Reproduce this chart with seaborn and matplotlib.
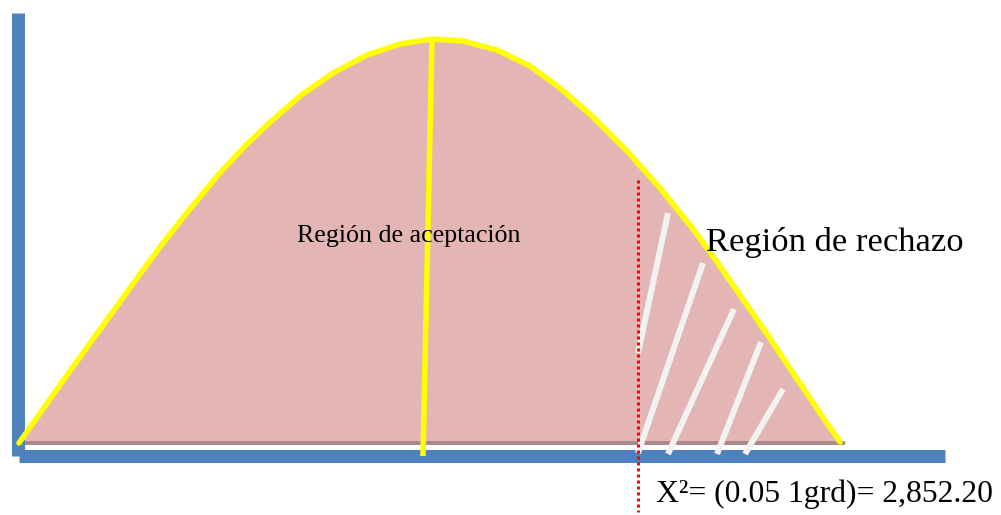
import numpy as np
import pandas as pd
import matplotlib
matplotlib.use("Agg")
import matplotlib.pyplot as plt
import seaborn as sns

# Curve (x position, height above the baseline)
curve_x = [19, 43, 70, 93, 117, 140, 163, 190, 219, 245, 267, 300, 333, 367, 400, 432,
           463, 497, 530, 560, 593, 627, 660, 693, 717, 740, 765, 793, 820, 840]
curve_y = [0, 34, 72, 104, 137, 169, 200, 234, 269, 297, 318, 347, 370, 388, 399, 404,
           402, 393, 377, 355, 326, 292, 255, 214, 181, 148, 112, 70, 30, 1]

# Mean line (slightly slanted in the original)
mean_x = [432, 423]
mean_y = [403, -13]

# Critical value marker
crit_x = 638
crit_top = 263
crit_bottom = -69

# White hatch strokes in the rejection region: (x0, y0, x1, y1)
hatch_x0 = [668, 703, 734, 761, 783]
hatch_y0 = [230, 180, 134, 101, 54]
hatch_x1 = [638, 638, 668, 717, 745]
hatch_y1 = [90, -10, -11, -11, -11]

label_accept = "Región de aceptación"
label_reject = "Región de rechazo"
label_crit = "X²= (0.05 1grd)= 2,852.20"

sns.set_style("white")
plt.rcParams['font.family'] = ['Liberation Serif', 'DejaVu Serif']

df = pd.DataFrame({'x': curve_x, 'y': curve_y})

fig = plt.figure(figsize=(10.01, 5.15), dpi=100)
ax = fig.add_axes([0, 0, 1, 1])
ax.set_xlim(0, 1001)
ax.set_ylim(-72, 443)
ax.axis('off')

px = 0.72  # one pixel in points

# shaded area under the curve
ax.fill_between(df['x'], 0, df['y'], color='#e3b5b5', lw=0, zorder=1)
ax.plot([19, 845], [0, 0], color='#a88a8b', lw=4 * px, solid_capstyle='butt', zorder=2)

# blue axes
ax.plot([17.5, 17.5], [430, -13], color='#4f81bd', lw=13 * px, solid_capstyle='butt', zorder=3)
ax.plot([19, 945], [-13, -13], color='#4f81bd', lw=13 * px, solid_capstyle='butt', zorder=3)

# curve outline
sns.lineplot(data=df, x='x', y='y', color='#ffff00', lw=5.5 * px, ax=ax,
             sort=False, zorder=4, solid_joinstyle='round')
ax.plot(mean_x, mean_y, color='#ffff00', lw=5.5 * px, solid_capstyle='butt', zorder=4)

# hatch strokes
for x0, y0, x1, y1 in zip(hatch_x0, hatch_y0, hatch_x1, hatch_y1):
    ax.plot([x0, x1], [y0, y1], color='#f2f2f2', lw=6 * px,
            solid_capstyle='butt', zorder=5)

# critical value line
ax.plot([crit_x, crit_x], [crit_top, crit_bottom], color='#ff0000',
        lw=3 * px, linestyle=(0, (1, 1)), zorder=6)

ax.text(297, 207, label_accept, fontsize=18.7, color='black', va='center', ha='left', zorder=7)
ax.text(706, 201, label_reject, fontsize=24.8, color='black', va='center', ha='left', zorder=7)
ax.text(656, -51, label_crit, fontsize=22.8, color='black', va='center', ha='left', zorder=7)

ax.set_xlabel('')
ax.set_ylabel('')
fig.savefig('out.png', dpi=100)
